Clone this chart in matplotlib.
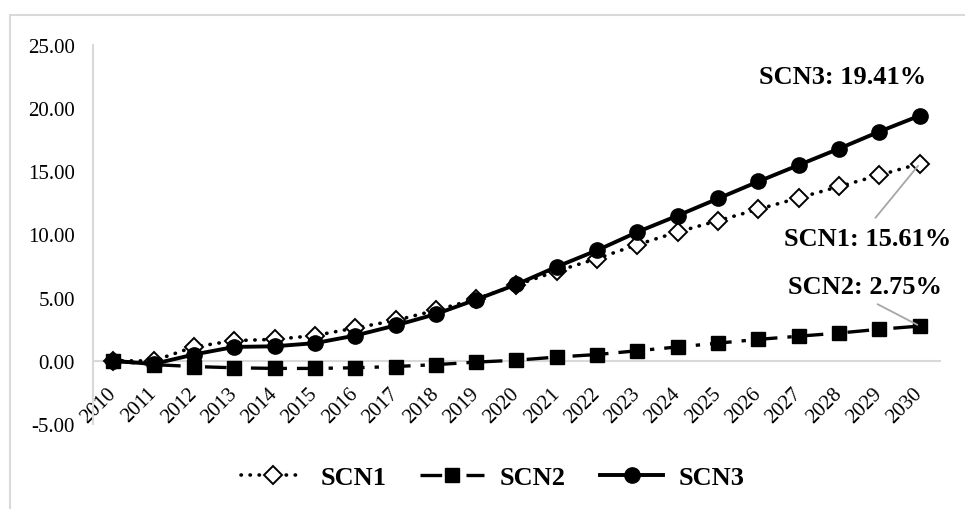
import numpy as np
import matplotlib.pyplot as plt
from matplotlib.patches import Rectangle

plt.rcParams["font.family"] = ["Liberation Serif", "DejaVu Serif"]

years = [str(y) for y in range(2010, 2031)]
scn1 = [0.0, 0.0, 1.1, 1.6, 1.7, 2.0, 2.6, 3.2, 4.0, 4.9, 6.0, 7.1, 8.1, 9.2, 10.2,
        11.1, 12.0, 12.9, 13.8, 14.7, 15.61]
scn2 = [0.0, -0.3, -0.45, -0.55, -0.6, -0.6, -0.55, -0.45, -0.3, -0.1, 0.05, 0.3,
        0.5, 0.8, 1.1, 1.4, 1.7, 1.95, 2.2, 2.5, 2.75]
scn3 = [0.0, -0.25, 0.5, 1.1, 1.15, 1.4, 2.0, 2.8, 3.7, 4.85, 6.05, 7.45, 8.75,
        10.2, 11.5, 12.85, 14.2, 15.5, 16.8, 18.15, 19.41]
yticks = [-5, 0, 5, 10, 15, 20, 25]

fig = plt.figure(figsize=(9.65, 5.1), dpi=100)
ax = fig.add_axes([93 / 965, 1 - 425 / 510, 847 / 965, 379 / 510])

# light grey frame around the chart area
fig.patches.append(Rectangle((10 / 965, -0.1), 1.2, 1 - 16 / 510 + 0.1,
                             transform=fig.transFigure, fill=False,
                             edgecolor="#d9d9d9", lw=1.5))

# spines first: set_position resets the ticks
for s in ["top", "right"]:
    ax.spines[s].set_visible(False)
ax.spines["bottom"].set_position(("data", 0))
ax.spines["bottom"].set_color("#d9d9d9")
ax.spines["bottom"].set_linewidth(1.5)
ax.spines["bottom"].set_zorder(0)
ax.spines["left"].set_color("#d9d9d9")
ax.spines["left"].set_linewidth(1.5)

x = np.arange(len(years))
l1, = ax.plot(x, scn1, color="black", lw=2.6, linestyle=(0, (0.1, 2.4)),
              dash_capstyle="round", marker="D", ms=9.5, mfc="white",
              mec="black", mew=1.4, label="SCN1")
l2, = ax.plot(x, scn2, color="black", lw=2.4, linestyle=(0, (6.5, 3, 1.3, 3)),
              marker="s", ms=10.5, mfc="black", mec="black", label="SCN2")
l3, = ax.plot(x, scn3, color="black", lw=2.8, marker="o", ms=11,
              mfc="black", mec="black", label="SCN3")

ax.set_xlim(-0.5, len(years) - 0.5)
ax.set_ylim(-5, 25)
ax.set_yticks(yticks)
ax.set_yticklabels([f"{v:.2f}" for v in yticks], fontsize=15)
ax.set_xticks(x)
ax.set_xticklabels(years, fontsize=15, rotation=45, ha="right",
                   va="center", rotation_mode="anchor")
ax.tick_params(axis="both", length=0)
ax.tick_params(axis="x", pad=21)
ax.tick_params(axis="y", pad=13)

bold = dict(fontsize=19, fontweight="bold", ha="center", va="center")
ax.annotate(f"SCN3: {scn3[-1]:.2f}%", xy=(x[-1], scn3[-1]), xytext=(-77, 39),
            textcoords="offset pixels", **bold)
ax.annotate(f"SCN1: {scn1[-1]:.2f}%", xy=(x[-1], scn1[-1]), xytext=(-52, -75),
            textcoords="offset pixels",
            arrowprops=dict(arrowstyle="-", color="#a6a6a6", lw=1.3,
                            relpos=(0.5, 1.0), shrinkA=6, shrinkB=2), **bold)
ax.annotate(f"SCN2: {scn2[-1]:.2f}%", xy=(x[-1], scn2[-1]), xytext=(-55, 40),
            textcoords="offset pixels",
            arrowprops=dict(arrowstyle="-", color="#a6a6a6", lw=1.3,
                            relpos=(0.5, 0.0), shrinkA=6, shrinkB=2), **bold)

fig.legend(handles=[l1, l2, l3], loc="center", bbox_to_anchor=(493 / 965, 1 - 478 / 510),
           ncol=3, frameon=False, prop=dict(size=19, weight="bold"),
           handlelength=2.4, handletextpad=0.6, columnspacing=1.3)

fig.savefig("out.png", dpi=100)
